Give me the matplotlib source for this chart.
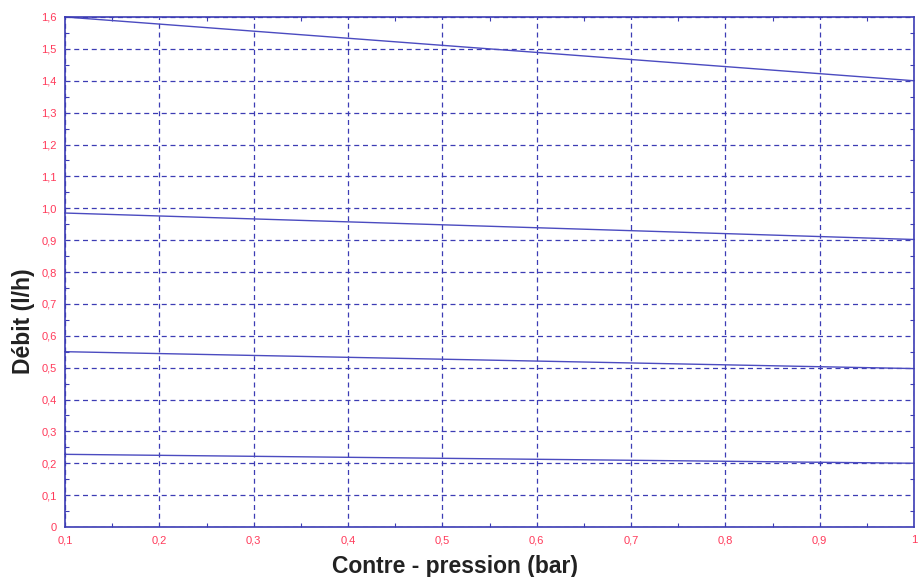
"""
Débit en fonction de la contre-pression (4 courbes).
"""

import matplotlib.pyplot as plt
from matplotlib.ticker import MultipleLocator

plt.rcParams["font.family"] = ["Liberation Sans", "DejaVu Sans"]

# données
pression = [0.1, 1.0]
debit_1 = [1.60, 1.40]
debit_2 = [0.985, 0.902]
debit_3 = [0.550, 0.497]
debit_4 = [0.228, 0.200]

x_ticks = [0.1, 0.2, 0.3, 0.4, 0.5, 0.6, 0.7, 0.8, 0.9, 1.0]
x_labels = ["0,1", "0,2", "0,3", "0,4", "0,5", "0,6", "0,7", "0,8", "0,9", "1"]
y_ticks = [i / 10 for i in range(17)]
y_labels = ["0"] + [f"{v:.1f}".replace(".", ",") for v in y_ticks[1:]]

LINE = "#4b4bc0"
GRID = "#3c3cb4"
TICK = "#ff3a5a"

fig = plt.figure(figsize=(9.18, 5.77), dpi=100)
ax = fig.add_axes([65 / 918, 50 / 577, 849 / 918, 510 / 577])

for serie in (debit_1, debit_2, debit_3, debit_4):
    ax.plot(pression, serie, color=LINE, linewidth=1.0, clip_on=False)

ax.set_xlim(0.1, 1.0)
ax.set_ylim(0, 1.6)
ax.set_xticks(x_ticks)
ax.set_xticklabels(x_labels)
ax.set_yticks(y_ticks)
ax.set_yticklabels(y_labels)
ax.xaxis.set_minor_locator(MultipleLocator(0.05))
ax.yaxis.set_minor_locator(MultipleLocator(0.05))

ax.tick_params(which="both", direction="in", colors=GRID, labelcolor=TICK,
               labelsize=8, top=True, right=True)
ax.tick_params(which="major", length=0, pad=6)
ax.tick_params(which="minor", length=3, width=0.8)

ax.grid(True, which="major", linestyle=(0, (4, 3)), color=GRID, linewidth=0.9)
for s in ax.spines.values():
    s.set_color(GRID)
    s.set_linewidth(1.2)

ax.set_xlabel("Contre - pression (bar)", fontsize=16.5, fontweight="bold",
              color="#222222", va="center")
ax.xaxis.set_label_coords(0.459, -0.077)
ax.set_ylabel("Débit (l/h)", fontsize=16.5, fontweight="bold",
              color="#222222", va="center")
ax.yaxis.set_label_coords(-0.049, 0.404)

plt.savefig("out.png", dpi=100)
